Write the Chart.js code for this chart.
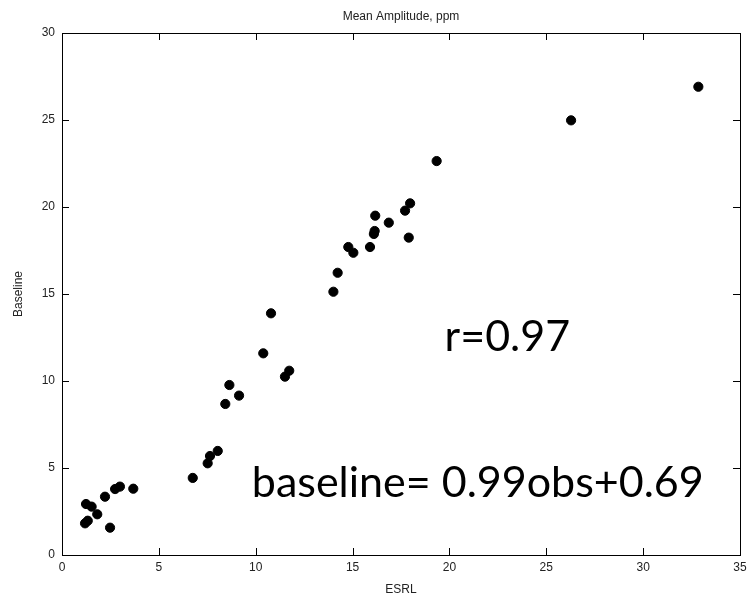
<!DOCTYPE html>
<html>
<head>
<meta charset="utf-8">
<script src="https://cdn.jsdelivr.net/npm/chart.js@4"></script>
<style>
  html, body { margin: 0; padding: 0; background: #fff; }
  #wrap { width: 752px; height: 605px; }
</style>
</head>
<body>
<div id="wrap"><canvas id="chart"></canvas></div>
<script>
// ESRL (x) vs Baseline (y)
var esrl = [1.19, 1.33, 1.24, 1.53, 1.82, 2.22, 2.48, 2.74, 2.99, 3.68,
            6.75, 7.52, 7.64, 8.04, 8.43, 8.64, 9.14,
            10.79, 10.39, 11.73, 11.51,
            14.01, 14.23, 14.78, 15.04, 15.90, 16.14, 16.10, 16.17, 16.87,
            17.90, 17.71, 17.97, 19.34, 26.28, 32.85];
var baseline = [1.82, 1.97, 2.93, 2.78, 2.34, 3.35, 1.57, 3.79, 3.93, 3.81,
                4.43, 5.27, 5.69, 5.98, 8.68, 9.77, 9.16,
                13.89, 11.59, 10.59, 10.25,
                15.13, 16.22, 17.70, 17.37, 17.70, 18.62, 18.45, 19.50, 19.10,
                18.24, 19.79, 20.21, 22.64, 24.98, 26.91];
var xTicks = [0, 5, 10, 15, 20, 25, 30, 35];
var yTicks = [0, 5, 10, 15, 20, 25, 30];

var points = esrl.map(function (x, i) { return {x: x, y: baseline[i]}; });

// matlab style box, inward ticks, title and the two notes
var boxPlugin = {
    id: 'box',
    afterDraw: function (chart) {
        var ctx = chart.ctx, a = chart.chartArea;
        var sx = chart.scales.x, sy = chart.scales.y;
        ctx.save();
        ctx.strokeStyle = '#000';
        ctx.lineWidth = 1;
        ctx.strokeRect(a.left + 0.5, a.top + 0.5, a.right - a.left, a.bottom - a.top);
        ctx.beginPath();
        xTicks.forEach(function (t) {
            var px = Math.round(sx.getPixelForValue(t)) + 0.5;
            ctx.moveTo(px, a.bottom); ctx.lineTo(px, a.bottom - 7);
            ctx.moveTo(px, a.top); ctx.lineTo(px, a.top + 7);
        });
        yTicks.forEach(function (t) {
            var py = Math.round(sy.getPixelForValue(t)) + 0.5;
            ctx.moveTo(a.left, py); ctx.lineTo(a.left + 7, py);
            ctx.moveTo(a.right, py); ctx.lineTo(a.right - 7, py);
        });
        ctx.stroke();

        ctx.fillStyle = '#222';
        ctx.font = '12px "Liberation Sans", Arial, sans-serif';
        ctx.textAlign = 'center';
        ctx.textBaseline = 'middle';
        ctx.fillText('Mean Amplitude, ppm', (a.left + a.right) / 2, 17);

        ctx.fillStyle = '#000';
        ctx.textAlign = 'left';
        ctx.textBaseline = 'alphabetic';
        ctx.font = '43px Lato, "Open Sans", sans-serif';
        ctx.fillText('r=0.97', sx.getPixelForValue(19.75), sy.getPixelForValue(11.7));
        ctx.fillText('baseline= 0.99obs+0.69', sx.getPixelForValue(9.8), sy.getPixelForValue(3.33));
        ctx.restore();
    }
};

var tickFont = {family: '"Liberation Sans", Arial, sans-serif', size: 12};

new Chart(document.getElementById('chart'), {
    type: 'scatter',
    data: {
        datasets: [{
            label: 'Mean Amplitude',
            data: points,
            backgroundColor: '#000',
            borderColor: '#000',
            pointRadius: 4.6,
            pointHoverRadius: 4.6
        }]
    },
    options: {
        responsive: true,
        maintainAspectRatio: false,
        animation: false,
        layout: {padding: {top: 33, right: 12, left: 0, bottom: 0}},
        plugins: {legend: {display: false}, tooltip: {enabled: false}},
        scales: {
            x: {
                type: 'linear',
                min: 0, max: 35,
                afterBuildTicks: function (s) { s.ticks = xTicks.map(function (v) { return {value: v}; }); },
                afterFit: function (s) { s.height = 50; },
                grid: {display: false, drawTicks: false},
                border: {display: false},
                ticks: {color: '#222', font: tickFont, padding: 5, maxRotation: 0},
                title: {display: true, text: 'ESRL', color: '#222', font: tickFont, padding: {top: 0, bottom: 8}}
            },
            y: {
                type: 'linear',
                min: 0, max: 30,
                afterBuildTicks: function (s) { s.ticks = yTicks.map(function (v) { return {value: v}; }); },
                afterFit: function (s) { s.width = 62; },
                grid: {display: false, drawTicks: false},
                border: {display: false},
                ticks: {color: '#222', font: tickFont, padding: 7},
                title: {display: true, text: 'Baseline', color: '#222', font: tickFont, padding: {top: 11, bottom: 0}}
            }
        }
    },
    plugins: [boxPlugin]
});
</script>
</body>
</html>
